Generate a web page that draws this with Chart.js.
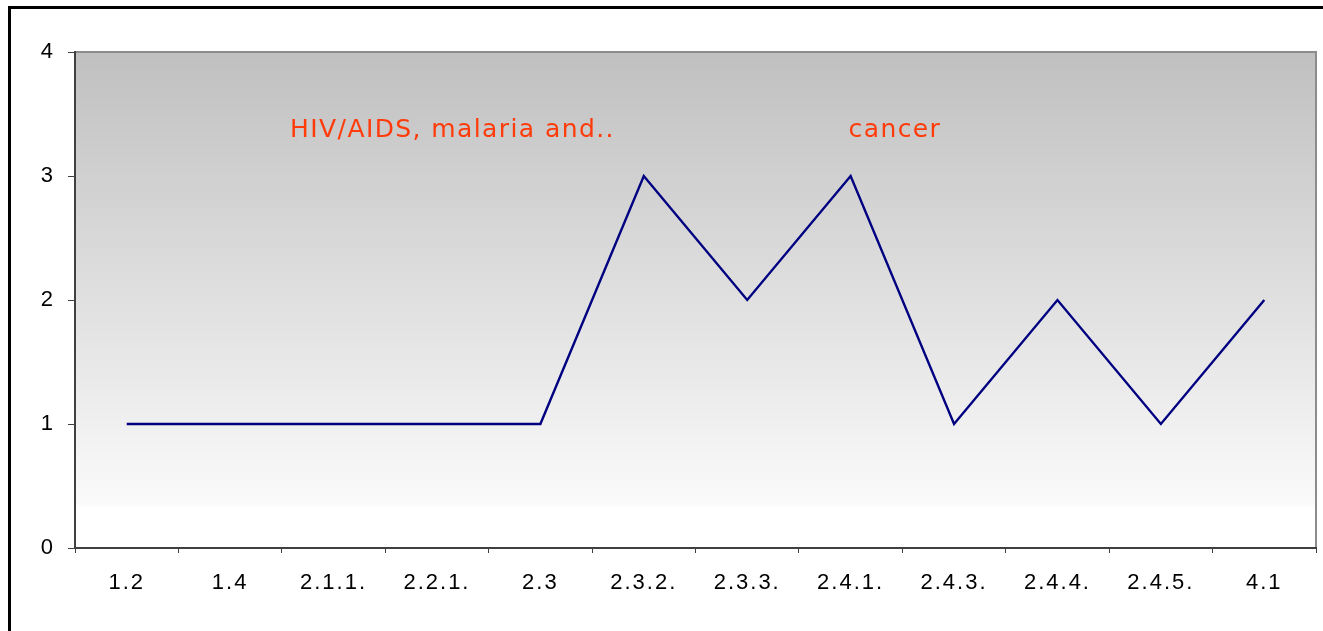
<!DOCTYPE html>
<html>
<head>
<meta charset="utf-8">
<script src="https://cdn.jsdelivr.net/npm/chart.js@4"></script>
<style>
  html,body{margin:0;padding:0;background:#fff;overflow:hidden;}
  #wrap{width:1323px;height:631px;position:relative;}
</style>
</head>
<body>
<div id="wrap"><canvas id="chart"></canvas></div>
<script>
// categories on the x axis
const categories = ['1.2','1.4','2.1.1.','2.2.1.','2.3','2.3.2.','2.3.3.','2.4.1.','2.4.3.','2.4.4.','2.4.5.','4.1'];
// series values
const values = [1,1,1,1,1,3,2,3,1,2,1,2];
// y tick labels
const yTicks = [0,1,2,3,4];
// text notes written inside the plot
const notes = ['HIV/AIDS, malaria and..','cancer'];

// where the notes sit (category units, value units)
const notePos = [{x:1.58, y:3.37},{x:6.98, y:3.37}];

// frame + gradient background + notes
const decor = {
    id:'decor',
    beforeLayout(chart){
        // the old chart spaces its letters a little
        chart.ctx.letterSpacing = '2px';
    },
    beforeDraw(chart){
        const ctx = chart.ctx;
        ctx.letterSpacing = '2px';
        const a = chart.chartArea;
        ctx.save();
        // outer frame
        ctx.strokeStyle = '#000';
        ctx.lineWidth = 3;
        ctx.strokeRect(9.5, 7.5, 1400, 700);
        // plot background
        const g = ctx.createLinearGradient(0, a.top, 0, a.bottom);
        g.addColorStop(0, '#c0c0c0');
        g.addColorStop(0.91, '#fafafa');
        g.addColorStop(0.92, '#ffffff');
        g.addColorStop(1, '#ffffff');
        ctx.fillStyle = g;
        ctx.fillRect(a.left, a.top, a.right - a.left, a.bottom - a.top);
        // grey top and right border
        ctx.strokeStyle = '#8c8c8c';
        ctx.lineWidth = 2;
        ctx.beginPath();
        ctx.moveTo(a.left, a.top);
        ctx.lineTo(a.right, a.top);
        ctx.lineTo(a.right, a.bottom);
        ctx.stroke();
        ctx.restore();
    },
    afterDatasetsDraw(chart){
        const ctx = chart.ctx;
        const xs = chart.scales.x, ys = chart.scales.y;
        ctx.save();
        ctx.fillStyle = '#ff3b0a';
        ctx.font = '25px "DejaVu Sans"';
        ctx.letterSpacing = '1.4px';
        ctx.textAlign = 'left';
        ctx.textBaseline = 'middle';
        notes.forEach((t,i)=>{
            ctx.fillText(t, xs.getPixelForValue(notePos[i].x), ys.getPixelForValue(notePos[i].y));
        });
        ctx.restore();
    }
};

const canvaElement = document.getElementById('chart').getContext('2d');
const tickFont = {family:'"Liberation Sans", Arial', size:22};
const config = {
    type:'line',
    data:{
        labels:categories,
        datasets:[{
            data:values,
            borderColor:'#000080',
            borderWidth:2.4,
            pointRadius:0,
            tension:0,
            fill:false
        }]
    },
    options:{
        responsive:false,
        animation:false,
        events:[],
        layout:{padding:{left:0, top:52, right:7, bottom:0}},
        plugins:{legend:{display:false}, tooltip:{enabled:false}},
        scales:{
            x:{
                offset:true,
                afterFit(scale){ scale.height = 83; },
                grid:{offset:true, drawOnChartArea:false, drawTicks:true, tickLength:5, color:'#404040', lineWidth:1},
                border:{display:true, color:'#404040', width:2},
                ticks:{color:'#000', padding:17, font:tickFont, maxRotation:0, autoSkip:false}
            },
            y:{
                min:0, max:4,
                afterFit(scale){ scale.width = 75; },
                afterBuildTicks(scale){ scale.ticks = yTicks.map(v=>({value:v})); },
                grid:{drawOnChartArea:false, drawTicks:true, tickLength:7, color:'#404040', lineWidth:1},
                border:{display:true, color:'#404040', width:2},
                ticks:{color:'#000', padding:13, font:tickFont}
            }
        }
    },
    plugins:[decor]
};
const c = document.getElementById('chart');
c.width = 1323; c.height = 631;
new Chart(canvaElement, config);
</script>
</body>
</html>
